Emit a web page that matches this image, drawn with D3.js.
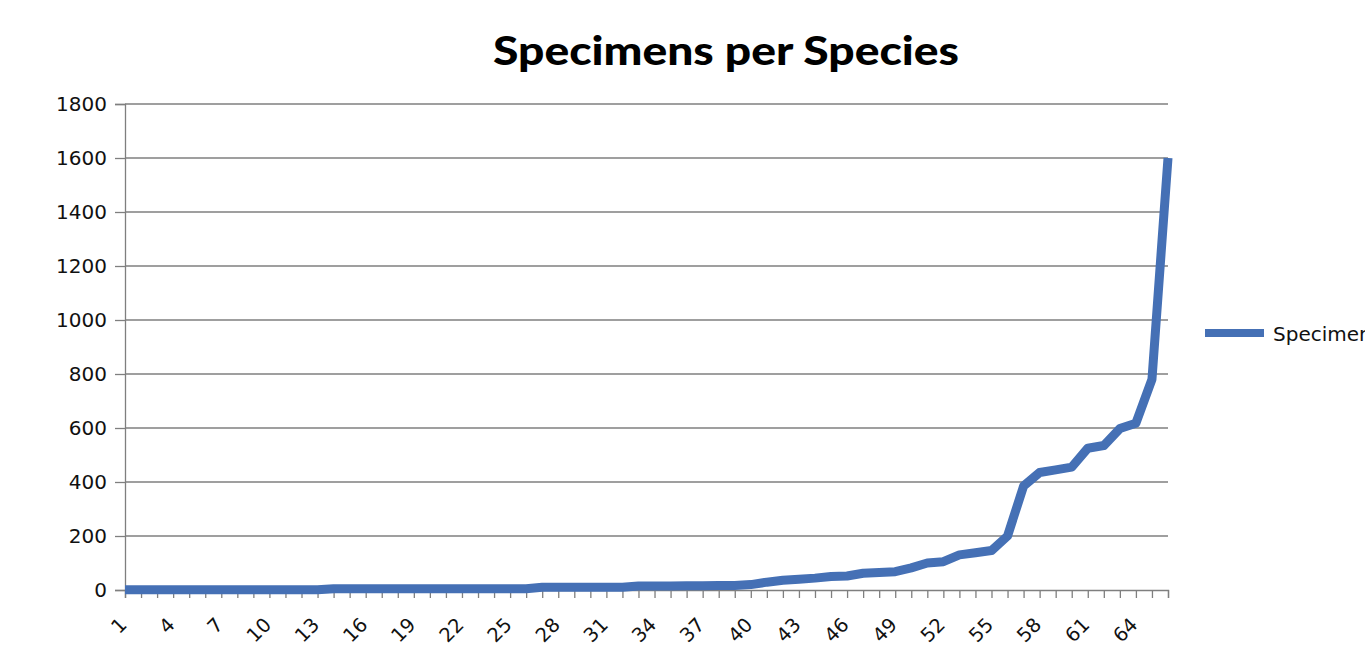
<!DOCTYPE html>
<html>
<head>
<meta charset="utf-8">
<script src="https://cdn.jsdelivr.net/npm/d3@7"></script>
<style>
  html, body { margin: 0; padding: 0; background: #fff; overflow: hidden; }
  svg { display: block; }
</style>
</head>
<body>
<svg id="chart" width="1365" height="658"></svg>
<script>
// Specimen counts per species, sorted ascending (species 1..66)
const species = d3.range(1, 67);
const specimens = [
  1, 1, 1, 1, 1, 1, 1, 1, 1, 1, 1, 1, 1,
  5, 5, 5, 5, 5, 5, 5, 5, 5, 5, 5, 5, 5,
  10, 10, 10, 10, 10, 10,
  15, 15, 15, 16, 16, 17, 17,
  20, 29, 36, 40, 44, 50, 52, 62, 65, 68,
  82, 100, 105, 130, 138, 146, 200, 385, 435, 445,
  455, 525, 535, 598, 618, 780, 1600
];
const xTickLabels = d3.range(1, 65, 3);          // 1, 4, 7, ... 64
const yTickValues = d3.range(0, 1801, 200);       // 0 .. 1800
const seriesName = "Specimens";
const chartTitle = "Specimens per Species";

const svg = d3.select("#chart");
const plotLeft = 125, plotRight = 1168, plotTop = 104, plotBottom = 590;

const x = d3.scalePoint().domain(species).range([plotLeft, plotRight]);
const y = d3.scaleLinear().domain([0, 1800]).range([plotBottom, plotTop]);

const lineColor = "#4570b5";
const gridColor = "#7f7f7f";
const fontFamily = "'DejaVu Sans', 'Liberation Sans', Arial, sans-serif";

// Horizontal gridlines
svg.append("g")
  .selectAll("line")
  .data(yTickValues.filter(v => v > 0))
  .join("line")
  .attr("x1", plotLeft).attr("x2", plotRight)
  .attr("y1", d => y(d)).attr("y2", d => y(d))
  .attr("stroke", gridColor).attr("stroke-width", 1.3);

// Y axis
const yAxis = svg.append("g")
  .attr("transform", `translate(${plotLeft},0)`)
  .call(d3.axisLeft(y).tickValues(yTickValues).tickSize(10).tickPadding(8).tickFormat(d3.format("d")));
yAxis.select(".domain").attr("stroke", gridColor).attr("stroke-width", 1.3);
yAxis.selectAll(".tick line").attr("stroke", gridColor).attr("stroke-width", 1.3);
yAxis.selectAll(".tick text")
  .attr("fill", "#111")
  .style("font-family", fontFamily)
  .style("font-size", "20px");

// X axis: a tick at every species, labels every third
const xAxis = svg.append("g")
  .attr("transform", `translate(0,${plotBottom})`)
  .call(d3.axisBottom(x).tickSizeOuter(0).tickSize(8).tickFormat(""));
xAxis.select(".domain").attr("stroke", gridColor).attr("stroke-width", 1.3);
xAxis.selectAll(".tick line").attr("stroke", gridColor).attr("stroke-width", 1.3);

svg.append("g")
  .selectAll("text")
  .data(xTickLabels)
  .join("text")
  .attr("transform", d => `translate(${x(d) + 3},${plotBottom + 36}) rotate(-45)`)
  .attr("text-anchor", "end")
  .attr("fill", "#111")
  .style("font-family", fontFamily)
  .style("font-size", "19.5px")
  .text(d => d);

// Series line
const line = d3.line()
  .x((d, i) => x(species[i]))
  .y(d => y(d));

svg.append("path")
  .datum(specimens)
  .attr("d", line)
  .attr("fill", "none")
  .attr("stroke", lineColor)
  .attr("stroke-width", 9)
  .attr("stroke-linejoin", "round");

// Title
svg.append("text")
  .attr("x", 726).attr("y", 65)
  .attr("text-anchor", "middle")
  .attr("fill", "#000")
  .style("font-family", "Lato, 'Open Sans', sans-serif")
  .style("font-weight", "900")
  .style("font-size", "39px")
  .attr("textLength", 466)
  .attr("lengthAdjust", "spacingAndGlyphs")
  .text(chartTitle);

// Legend
const legend = svg.append("g");
legend.append("line")
  .attr("x1", 1205).attr("x2", 1264)
  .attr("y1", 333).attr("y2", 333)
  .attr("stroke", lineColor).attr("stroke-width", 8);
legend.append("text")
  .attr("x", 1273).attr("y", 341)
  .attr("fill", "#111")
  .style("font-family", fontFamily)
  .style("font-size", "20px")
  .text(seriesName);
</script>
</body>
</html>
